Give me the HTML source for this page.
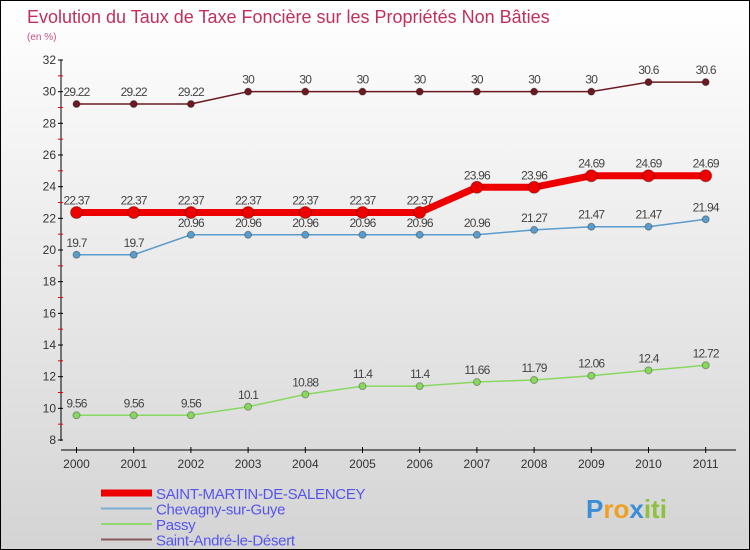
<!DOCTYPE html>
<html><head><meta charset="utf-8"><style>
body{margin:0}
#c{width:748px;height:548px;border:1px solid #000;background:linear-gradient(#fff,#d4d4d4);position:relative;font-family:"Liberation Sans",sans-serif;overflow:hidden}
</style></head><body>
<div id="c">
<svg id="s" width="748" height="548"></svg>
</div>
<script>
const years=["2000","2001","2002","2003","2004","2005","2006","2007","2008","2009","2010","2011"];
const yTicks=[8,10,12,14,16,18,20,22,24,26,28,30,32];
const sMartin=[22.37,22.37,22.37,22.37,22.37,22.37,22.37,23.96,23.96,24.69,24.69,24.69];
const chevagny=[19.7,19.7,20.96,20.96,20.96,20.96,20.96,20.96,21.27,21.47,21.47,21.94];
const passy=[9.56,9.56,9.56,10.1,10.88,11.4,11.4,11.66,11.79,12.06,12.4,12.72];
const andre=[29.22,29.22,29.22,30,30,30,30,30,30,30,30.6,30.6];
const NS="http://www.w3.org/2000/svg",svg=document.getElementById('s');
function X(i){return 75.5+i*57.2}
function Y(v){return 439-(v-8)*(380/24)}
function el(t,a,name,p){const e=document.createElementNS(NS,t);for(const k in a)e.setAttribute(k,a[k]);


(p||svg).appendChild(e);return e}
function txt(x,y,s,a,name){const e=el('text',Object.assign({x:x,y:y},a),name);e.textContent=s;return e}
txt(26,22,"Evolution du Taux de Taxe Foncière sur les Propriétés Non Bâties",{fill:"#c0305a","font-size":18},"chart-title");
txt(26,39,"(en %)",{fill:"#c0508a","font-size":10},"chart-subtitle");
el('line',{x1:60,y1:59,x2:60,y2:440,stroke:"#000"},"y-axis");
el('line',{x1:60,y1:449,x2:735,y2:449,stroke:"#000"},"x-axis");
yTicks.forEach((v,i)=>{
 el('line',{x1:57,x2:62,y1:Y(v),y2:Y(v),stroke:"#000"},"y-tick");
 if(i<yTicks.length-1)el('line',{x1:57,x2:62,y1:Y(v+1),y2:Y(v+1),stroke:"#e00"},"y-minor-tick");
 txt(55,Y(v)+4,String(v),{"text-anchor":"end","font-size":12,fill:"#333"},"y-tick-label");
});
years.forEach((y,i)=>{
 el('line',{x1:X(i),x2:X(i),y1:446,y2:452,stroke:"#000"},"x-tick");
 txt(X(i),467,y,{"text-anchor":"middle","font-size":12,fill:"#333"},"x-tick-label");
});
function series(d,color,w,r,name){
 el('polyline',{points:d.map((v,i)=>X(i)+","+Y(v)).join(" "),fill:"none",stroke:color,"stroke-width":w},name+"-line");
 d.forEach((v,i)=>{el('circle',{cx:X(i),cy:Y(v),r:r,fill:color,stroke:"rgba(0,0,0,0.3)"},name+"-point");
 txt(X(i),Y(v)-8,String(v),{"text-anchor":"middle","font-size":12,fill:"#444","letter-spacing":"-0.8"},name+"-value");});
}
series(andre,"#6b1a22",1.5,3.5,"saint-andre");
series(passy,"#88d860",1.5,3.5,"passy");
series(chevagny,"#5a9ccc",1.5,3.5,"chevagny");
series(sMartin,"#ee0000",7,6,"saint-martin");
const leg=[["SAINT-MARTIN-DE-SALENCEY","#ee0000",7],["Chevagny-sur-Guye","#7aaed0",2],["Passy","#90d870",2],["Saint-André-le-Désert","#8a5a5a",2]];
leg.forEach((l,i)=>{const y=492+i*15.5;
 el('line',{x1:100,x2:151,y1:y,y2:y,stroke:l[1],"stroke-width":l[2]},"legend-swatch");
 txt(155,y+6,l[0],{"font-size":15,fill:"#5555ee","letter-spacing":"-0.3"},"legend-entry");});
const lg=el('text',{x:585,y:517,"font-size":26,"font-weight":"bold"},"proxiti-logo");
[["P","#3a8ed8"],["ro","#f0a020"],["x","#3a8ed8"],["iti","#90c040"]].forEach(p=>{const t=document.createElementNS(NS,'tspan');t.setAttribute('fill',p[1]);t.textContent=p[0];lg.appendChild(t)});
</script>
</body></html>
